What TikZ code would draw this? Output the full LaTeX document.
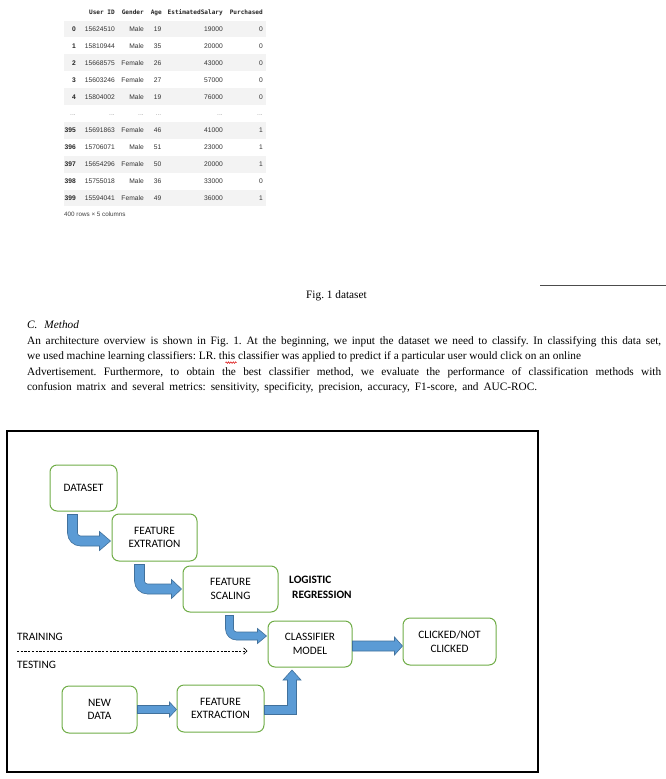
\documentclass[tikz,border=0pt]{standalone}
\usepackage{fontspec}
\setmainfont{Liberation Serif}
\newfontfamily\carl{Carlito}
\newfontfamily\tsans{Liberation Sans}
\newfontfamily\tmono{DejaVu Sans Mono}
\usetikzlibrary{calc,arrows.meta,decorations.pathmorphing}
\definecolor{boxgreen}{HTML}{70AD47}
\definecolor{arrfill}{HTML}{5B9BD5}
\definecolor{arrline}{HTML}{41719C}
\definecolor{rowgray}{HTML}{F3F3F3}
% bent block arrow: #1 from, #2 to, #3 dx, #4 dy, #5 half shaft, #6 half head, #7 head length, #8 outer radius
\newcommand{\bentarr}[8]{%
\path[blockarrow] let \p1=($(#1.south)+(#3,3)$), \p2=($(#2.west)+(-1,#4)$) in
 (\x1-#5pt,\y1) -- (\x1-#5pt,\y2-#5pt+#8pt)
 .. controls (\x1-#5pt,\y2-#5pt+0.448*#8pt) and (\x1-#5pt+0.448*#8pt,\y2-#5pt) .. (\x1-#5pt+#8pt,\y2-#5pt)
 -- (\x2-#7pt,\y2-#5pt) -- (\x2-#7pt,\y2-#6pt) -- (\x2,\y2) -- (\x2-#7pt,\y2+#6pt) -- (\x2-#7pt,\y2+#5pt)
 -- (\x1+#5pt+#8pt-2*#5pt,\y2+#5pt)
 .. controls (\x1+#5pt+0.448*#8pt-0.896*#5pt,\y2+#5pt) and (\x1+#5pt,\y2+#5pt+0.448*#8pt-0.896*#5pt) .. (\x1+#5pt,\y2+#5pt+#8pt-2*#5pt)
 -- (\x1+#5pt,\y1) -- cycle;}
% straight block arrow: #1 from, #2 to, #3 dy, #4 half shaft, #5 half head, #6 head length
\newcommand{\straightarr}[6]{%
\path[blockarrow] let \p1=($(#1.east)+(0,#3)$), \p2=(#2.west) in
 (\x1,\y1+#4pt) -- (\x2-#6pt,\y1+#4pt) -- (\x2-#6pt,\y1+#5pt) -- (\x2,\y1) -- (\x2-#6pt,\y1-#5pt) -- (\x2-#6pt,\y1-#4pt) -- (\x1,\y1-#4pt) -- cycle;}
\begin{document}
\begin{tikzpicture}[x=1pt,y=-1pt,
 flowbox/.style={draw=boxgreen, line width=1pt, rounded corners=7pt, fill=white, align=center, inner sep=0pt, font=\carl\fontsize{11.3}{13.7}\selectfont},
 blockarrow/.style={fill=arrfill, draw=arrline, line width=0.6pt, line join=miter},
 lbl/.style={anchor=west, inner sep=0pt, font=\carl\fontsize{11.3}{13.7}\selectfont},
 blbl/.style={anchor=west, inner sep=0pt, font=\carl\bfseries\fontsize{11.3}{13.7}\selectfont},
 tcell/.style={anchor=base east, inner sep=0pt, font=\tsans\fontsize{6.7}{8}\selectfont, text=black!80},
 tidx/.style={anchor=base east, inner sep=0pt, font=\tsans\bfseries\fontsize{6.7}{8}\selectfont, text=black!85},
 thead/.style={anchor=base east, inner sep=0pt, font=\tmono\bfseries\fontsize{6.1}{7}\selectfont, text=black!85},
 tdots/.style={anchor=base east, inner sep=0pt, font=\tsans\fontsize{6.7}{8}\selectfont, text=black!40},
 para/.style={anchor=base west, inner sep=0pt, font=\frenchspacing\fontsize{11.3}{13.6}\selectfont}
]
\useasboundingbox (0,0) rectangle (666,779);
\fill[white] (0,0) rectangle (666,779);

% ---------- table ----------
\node[thead] (h-id)  at (115,14.2) {User ID};
\node[thead] (h-g)   at (144,14.2) {Gender};
\node[thead] (h-a)   at (162,14.2) {Age};
\node[thead] (h-s)   at (223,14.2) {EstimatedSalary};
\node[thead] (h-p)   at (263,14.2) {Purchased};
\foreach \k in {0,2,4,6,8,10}{
 \pgfmathsetmacro\ry{29+16.9*\k}
 \fill[rowgray] (64,\ry-8.45) rectangle (266,\ry+8.45);
}
\foreach \k/\ix/\id/\g/\a/\s/\p in {
 0/0/15624510/Male/19/19000/0,
 1/1/15810944/Male/35/20000/0,
 2/2/15668575/Female/26/43000/0,
 3/3/15603246/Female/27/57000/0,
 4/4/15804002/Male/19/76000/0,
 6/395/15691863/Female/46/41000/1,
 7/396/15706071/Male/51/23000/1,
 8/397/15654296/Female/50/20000/1,
 9/398/15755018/Male/36/33000/0,
 10/399/15594041/Female/49/36000/1}{
 \pgfmathsetmacro\ry{29+16.9*\k}
 \node[tidx]  (r\k-ix) at (76,\ry+2.4) {\ix};
 \node[tcell] (r\k-id) at (115,\ry+2.4) {\id};
 \node[tcell] (r\k-g)  at (144,\ry+2.4) {\g};
 \node[tcell] (r\k-a)  at (161.5,\ry+2.4) {\a};
 \node[tcell] (r\k-s)  at (223,\ry+2.4) {\s};
 \node[tcell] (r\k-p)  at (263,\ry+2.4) {\p};
}
\node[tdots] (r5-ix) at (76,115.9) {...};
\node[tdots] (r5-id) at (115,115.9) {...};
\node[tdots] (r5-g)  at (144,115.9) {...};
\node[tdots] (r5-a)  at (161.5,115.9) {...};
\node[tdots] (r5-s)  at (223,115.9) {...};
\node[tdots] (r5-p)  at (263,115.9) {...};
\node[anchor=base west, inner sep=0pt, font=\tsans\fontsize{6.3}{8}\selectfont, text=black!75] (foot) at (64,216.3) {400 rows × 5 columns};

% ---------- caption and text ----------
\coordinate (hl0) at (540,285);
\coordinate (hl1) at (666,285);
\draw[black!70, line width=1pt] (hl0) -- (hl1);
\node[para] (cap) at (306,298.5) {Fig. 1 dataset};
\node[para] (sec) at (27,328.5) {\itshape C.\hspace{6.9pt}Method};
\node[para] (l1) at (27,344.5) {\makebox[634pt][s]{An architecture overview is shown in Fig. 1. At the beginning, we input the dataset we need to classify. In classifying this data set,}};
\node[para] (l2) at (27,359.8) {we used machine learning classifiers: LR. this classifier was applied to predict if a particular user would click on an online};
\node[para] (l3) at (27,375.2) {\makebox[634pt][s]{Advertisement. Furthermore, to obtain the best classifier method, we evaluate the performance of classification methods with}};
\node[para] (l4) at (27,390.5) {\makebox[510pt][s]{confusion matrix and several metrics: sensitivity, specificity, precision, accuracy, F1-score, and AUC-ROC.}};
\coordinate (sq0) at (225.5,362.6);
\coordinate (sq1) at (236.5,362.6);
\draw[red!85!black, line width=0.5pt, decorate, decoration={zigzag, segment length=2.4pt, amplitude=0.8pt}] (sq0) -- (sq1);

% ---------- diagram ----------
\draw[line width=2pt] (7,431) rectangle (538,772);

\node[flowbox, minimum width=67pt, minimum height=46pt] (ds)  at (83.5,488) {DATASET};
\node[flowbox, minimum width=85pt, minimum height=47pt] (fe1) at (154.5,537.5) {FEATURE\\EXTRATION};
\node[flowbox, minimum width=95pt, minimum height=46pt] (fs)  at (230.5,589) {FEATURE\\SCALING};
\node[flowbox, minimum width=84pt, minimum height=46pt] (cm)  at (310,644) {CLASSIFIER\\MODEL};
\node[flowbox, minimum width=93pt, minimum height=47pt] (ck)  at (449.5,641.5) {CLICKED/NOT\\CLICKED};
\node[flowbox, minimum width=75pt, minimum height=47pt] (nd)  at (99.5,709.5) {NEW\\DATA};
\node[flowbox, minimum width=87pt, minimum height=47pt] (fe2) at (220.5,708.5) {FEATURE\\EXTRACTION};

\node[blbl] (lr1) at (289,580) {LOGISTIC};
\node[blbl] (lr2) at (292,594.5) {REGRESSION};

\node[lbl] (train) at (17,637) {TRAINING};
\node[lbl] (test)  at (17,664.5) {TESTING};
\coordinate (dl0) at (17,651);
\coordinate (dl1) at (247.5,651);
\draw[line width=0.6pt, dash pattern=on 2.3pt off 1.4pt, -{Straight Barb[length=3.5pt,width=6.5pt,line width=0.6pt]}] (dl0) -- (dl1);

\bentarr{ds}{fe1}{-11}{3.5}{5}{9.5}{11}{13}
\bentarr{fe1}{fs}{-15}{0}{5}{9.5}{10}{13}
\bentarr{fs}{cm}{-1}{-8}{4}{7.5}{9}{11}
\straightarr{cm}{ck}{2}{5}{9}{8}
\straightarr{nd}{fe2}{0}{4}{7.5}{7}
\path[blockarrow] let \p1=($(fe2.east)+(0,1.5)$), \p2=($(cm.south)+(-18,2.5)$) in
 (\x1,\y1+4.5pt) -- (\x2-4.5pt,\y1+4.5pt) -- (\x2-4.5pt,\y2-10pt) -- (\x2-9pt,\y2-10pt) -- (\x2,\y2)
 -- (\x2+9pt,\y2-10pt) -- (\x2+4.5pt,\y2-10pt) -- (\x2+4.5pt,\y1-4.5pt) -- (\x1,\y1-4.5pt) -- cycle;
\end{tikzpicture}
\end{document}
